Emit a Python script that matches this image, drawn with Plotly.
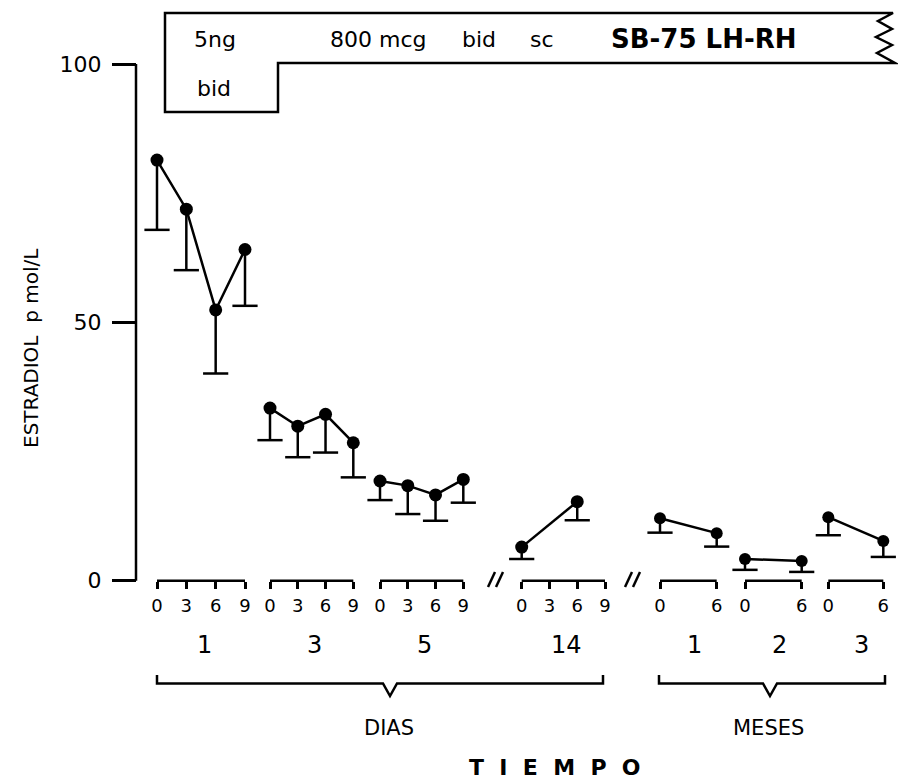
import plotly.graph_objects as go

# ---------------- data ----------------
y_tick_vals = [0, 50, 100]
y_tick_text = ["0", "50", "100"]

day_labels = ["1", "3", "5", "14"]
month_labels = ["1", "2", "3"]

day_tick_hours = [0, 3, 6, 9]
month_tick_hours = [0, 6]

day1_hours = [0, 3, 6, 9]
day1_mean = [81.4, 71.9, 52.4, 64.1]
day1_low = [67.9, 60.1, 40.1, 53.2]

day3_hours = [0, 3, 6, 9]
day3_mean = [33.4, 29.9, 32.2, 26.7]
day3_low = [27.2, 23.9, 24.8, 20.0]

day5_hours = [0, 3, 6, 9]
day5_mean = [19.3, 18.4, 16.6, 19.6]
day5_low = [15.6, 12.9, 11.6, 15.1]

day14_hours = [0, 6]
day14_mean = [6.5, 15.3]
day14_low = [4.2, 11.7]

month1_hours = [0, 6]
month1_mean = [12.1, 9.2]
month1_low = [9.3, 6.6]

month2_hours = [0, 6]
month2_mean = [4.2, 3.8]
month2_low = [2.1, 1.7]

month3_hours = [0, 6]
month3_mean = [12.3, 7.7]
month3_low = [8.8, 4.6]

# ---------------- layout (positions / styles) ----------------
W, H = 898, 784
FONT = "DejaVu Sans"
BLACK = "black"
LW = 2.5

# x axis is expressed in figure pixels; each group occupies a fixed span
group_left = [157, 270, 380, 521.7, 660, 745, 828.3]
group_span = [88, 83.3, 83.3, 83.3, 56.7, 56.7, 55]

groups = [
    (day_labels[0], day_tick_hours, day1_hours, day1_mean, day1_low),
    (day_labels[1], day_tick_hours, day3_hours, day3_mean, day3_low),
    (day_labels[2], day_tick_hours, day5_hours, day5_mean, day5_low),
    (day_labels[3], day_tick_hours, day14_hours, day14_mean, day14_low),
    (month_labels[0], month_tick_hours, month1_hours, month1_mean, month1_low),
    (month_labels[1], month_tick_hours, month2_hours, month2_mean, month2_low),
    (month_labels[2], month_tick_hours, month3_hours, month3_mean, month3_low),
]

# value axis: y=0 at pixel 580.7, y=100 at pixel 64
PX0, PX100 = 580.7, 64.0
ppu = (PX0 - PX100) / 100.0
y_range = [-(H - PX0) / ppu, 100 + PX100 / ppu]


def pxx(x):
    return x / W


def pxy(y):
    return 1 - y / H


fig = go.Figure()

tick_vals, tick_text = [], []
shapes = []
annotations = []

for i, (lab, tick_h, hrs, mean, low) in enumerate(groups):
    left, span = group_left[i], group_span[i]
    last = tick_h[-1]

    def gx(h, left=left, span=span, last=last):
        return left + span * h / last

    for h in tick_h:
        tick_vals.append(gx(h))
        tick_text.append(str(h))
    # bracket line of the group
    shapes.append(dict(type="line", xref="x", yref="y", x0=gx(tick_h[0]), x1=gx(tick_h[-1]),
                       y0=0, y1=0, line=dict(color=BLACK, width=LW)))
    xs = [gx(h) for h in hrs]
    msize = 13 if i < 4 else 12
    fig.add_trace(go.Scatter(
        x=xs, y=mean, mode="lines+markers",
        line=dict(color=BLACK, width=LW),
        marker=dict(size=msize, color=BLACK),
        error_y=dict(type="data", symmetric=False, array=[0] * len(mean),
                     arrayminus=[m - l for m, l in zip(mean, low)],
                     width=0, thickness=LW, color=BLACK),
        showlegend=False, hoverinfo="skip"))
    fig.add_trace(go.Scatter(
        x=xs, y=low, mode="markers",
        marker=dict(symbol="line-ew", size=18, color=BLACK, line=dict(width=LW, color=BLACK)),
        showlegend=False, hoverinfo="skip"))
    annotations.append(dict(x=left + span / 2 + (3 if i < 4 else 6), y=pxy(645), xref="x", yref="paper",
                            text=lab, showarrow=False, xanchor="center", yanchor="middle",
                            font=dict(family=FONT, size=24, color=BLACK)))

# y axis line
AXX = 136
shapes.append(dict(type="line", xref="x", yref="y", x0=AXX, x1=AXX, y0=0, y1=100,
                   line=dict(color=BLACK, width=LW)))

# top treatment box with zig-zag end
box_pts = [(165, 112), (165, 13), (893, 13), (878, 21), (892, 29), (876, 37), (892, 45),
           (877, 53), (895, 63), (278, 63), (278, 112)]
path = "M " + " L ".join(f"{pxx(x):.5f},{pxy(y):.5f}" for x, y in box_pts) + " Z"
shapes.append(dict(type="path", xref="paper", yref="paper", path=path,
                   line=dict(color=BLACK, width=LW), fillcolor="rgba(0,0,0,0)"))

box_texts = [
    ("5ng", 215, 39, 22, False),
    ("bid", 214, 89, 22, False),
    ("800 mcg", 378, 39, 22, False),
    ("bid", 479, 39, 22, False),
    ("sc", 542, 39, 22, False),
    ("SB-75 LH-RH", 703, 39, 26, True),
]
for t, x, y, s, b in box_texts:
    txt = f"<b>{t}</b>" if b else t
    annotations.append(dict(x=pxx(x), y=pxy(y), xref="paper", yref="paper", text=txt,
                            showarrow=False, xanchor="center", yanchor="middle",
                            font=dict(family=FONT, size=s, color=BLACK)))

# axis break marks "//"
for cx in (496, 633):
    for dx in (-4, 4):
        shapes.append(dict(type="line", xref="paper", yref="paper",
                           x0=pxx(cx + dx - 4), y0=pxy(587), x1=pxx(cx + dx + 3), y1=pxy(572),
                           line=dict(color=BLACK, width=LW)))

# big braces for DIAS / MESES
for (x0, x1, xc) in ((157, 603, 390), (659, 885, 770)):
    pts = [(x0, 675), (x0, 683.5), (xc - 7, 683.5), (xc, 696), (xc + 7, 683.5), (x1, 683.5), (x1, 675)]
    p = "M " + " L ".join(f"{pxx(x):.5f},{pxy(y):.5f}" for x, y in pts)
    shapes.append(dict(type="path", xref="paper", yref="paper", path=p,
                       line=dict(color=BLACK, width=LW)))

for t, x, y, s in (("DIAS", 389, 728, 21), ("MESES", 768, 728, 21)):
    annotations.append(dict(x=pxx(x), y=pxy(y), xref="paper", yref="paper", text=t,
                            showarrow=False, xanchor="center", yanchor="middle",
                            font=dict(family=FONT, size=s, color=BLACK)))

annotations.append(dict(x=pxx(555), y=pxy(767), xref="paper", yref="paper",
                        text="<b>T\u00a0\u00a0I\u00a0\u00a0E\u00a0\u00a0M\u00a0\u00a0P\u00a0\u00a0O</b>",
                        showarrow=False, xanchor="center", yanchor="middle",
                        font=dict(family=FONT, size=22, color=BLACK)))

# y-axis title
annotations.append(dict(x=pxx(31), y=pxy(348), xref="paper", yref="paper",
                        text="ESTRADIOL\u00a0\u00a0p\u00a0mol/L", textangle=-90,
                        showarrow=False, xanchor="center", yanchor="middle",
                        font=dict(family=FONT, size=20, color=BLACK)))

fig.update_layout(
    width=W, height=H, autosize=False,
    margin=dict(l=0, r=0, t=0, b=0),
    paper_bgcolor="white", plot_bgcolor="white",
    showlegend=False,
    shapes=shapes, annotations=annotations,
    xaxis=dict(range=[0, W], domain=[0, 1], anchor="free", position=(H - PX0) / H,
               tickvals=tick_vals, ticktext=tick_text, ticks="outside", ticklen=7,
               tickwidth=LW, tickcolor=BLACK, showgrid=False, zeroline=False, showline=False,
               ticklabelstandoff=2,
               tickfont=dict(family=FONT, size=18, color=BLACK), fixedrange=True),
    yaxis=dict(range=y_range, domain=[0, 1], anchor="free", position=AXX / W,
               tickvals=y_tick_vals, ticktext=y_tick_text, ticks="outside", ticklen=24,
               tickwidth=LW, tickcolor=BLACK, showgrid=False, zeroline=False, showline=False,
               ticklabelstandoff=6,
               tickfont=dict(family=FONT, size=22, color=BLACK), fixedrange=True),
)

fig.write_html("out.html")
